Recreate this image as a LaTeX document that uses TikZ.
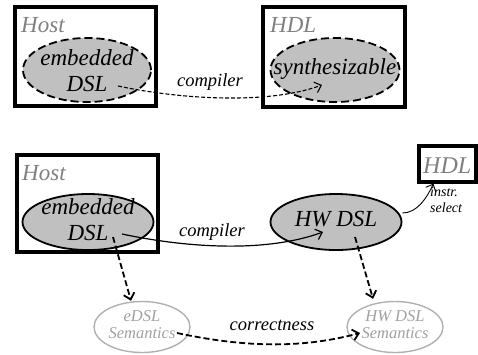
\documentclass[tikz,border=0pt]{standalone}
\usepackage{fontspec}
\setmainfont{Liberation Serif}[ItalicFont={Liberation Serif Italic},BoldFont={Liberation Serif Bold}]
\newfontfamily\tms{Liberation Serif Italic}
\usetikzlibrary{arrows.meta,shapes.geometric}
\definecolor{fillgray}{HTML}{C0C0C0}
\definecolor{labgray}{HTML}{808080}
\definecolor{semline}{HTML}{B0B0B0}
\definecolor{semtext}{HTML}{A0A0A0}
\begin{document}
\begin{tikzpicture}[x=1pt,y=1pt,
  frame/.style={draw, line width=3.2pt, rectangle, inner sep=0pt},
  bubble/.style={ellipse, draw, line width=1.8pt, fill=fillgray, inner sep=0pt},
  dashbubble/.style={bubble, dash pattern=on 8pt off 4pt},
  semb/.style={ellipse, draw=semline, line width=1.4pt, inner sep=0pt},
  bigtxt/.style={inner sep=0pt, align=center, font=\tms\fontsize{23}{26}\selectfont},
  grlab/.style={inner sep=0pt, anchor=base west, text=labgray, font=\tms\fontsize{23}{26}\selectfont},
  semtxt/.style={inner sep=0pt, align=center, text=semtext, font=\tms\fontsize{16.5}{17}\selectfont},
  edgelab/.style={inner sep=0pt, anchor=base, font=\tms\fontsize{18.5}{20}\selectfont},
  tip/.style={-{Straight Barb[length=6pt,width=11pt]}},
]
\useasboundingbox (0,0) rectangle (478,-354);

% ---------- top part ----------
\node[frame, minimum width=141, minimum height=99] (host1) at (85.5,-56.5) {};
\node[grlab] (host1l) at (21,-32) {Host};
\node[dashbubble, minimum width=128, minimum height=64] (e1) at (87,-70) {};
\node[bigtxt] (e1t) at (87,-71) {embedded\\DSL};

\node[frame, minimum width=142, minimum height=100] (hdl1) at (334,-57) {};
\node[grlab] (hdl1l) at (270,-32) {HDL};
\node[dashbubble, minimum width=129, minimum height=64] (s1) at (335,-70) {};
\node[bigtxt] (s1t) at (335,-69) {synthesizable};

\coordinate (c1s) at ([shift={(31,-16)}]e1.center);
\coordinate (c1e) at ([shift={(-13,-15)}]s1.center);
\draw[tip, line width=1.1pt, dash pattern=on 4pt off 2pt]
  (c1s) to[out=-12, in=200, looseness=0.75] (c1e);
\node[edgelab] (c1l) at (210,-86) {compiler};

% ---------- bottom part ----------
\node[frame, minimum width=141, minimum height=97] (host2) at (87.5,-203.5) {};
\node[grlab] (host2l) at (22,-180) {Host};
\node[bubble, minimum width=131, minimum height=56] (e2) at (88,-222) {};
\node[bigtxt] (e2t) at (88,-220) {embedded\\DSL};

\node[bubble, minimum width=131, minimum height=56] (hw) at (336,-222) {};
\node[bigtxt] (hwt) at (336,-219) {HW DSL};

\node[frame, minimum width=57, minimum height=36] (hdl2) at (447.5,-164) {};
\node[grlab, font=\tms\fontsize{24}{26}\selectfont] (hdl2l) at (423,-173) {HDL};

\node[semb, minimum width=96, minimum height=51] (sem1) at (142,-327) {};
\node[semtxt] (sem1t) at (142,-325) {eDSL\\Semantics};
\node[semb, minimum width=96, minimum height=51] (sem2) at (395,-327) {};
\node[semtxt] (sem2t) at (395,-325) {HW DSL\\Semantics};

% compiler (solid)
\coordinate (c2s) at ([shift={(34,-12)}]e2.center);
\coordinate (c2e) at ([shift={(-13,-10)}]hw.center);
\draw[tip, line width=1.2pt] (c2s) to[out=-12, in=200, looseness=0.8] (c2e);
\node[edgelab] (c2l) at (212,-236) {compiler};

% instr. select
\coordinate (c3s) at (hw.east);
\draw[tip, line width=0.9pt] ([yshift=9pt]c3s) to[out=0, in=-115, looseness=0.9] ([xshift=-14pt]hdl2.south);
\node[inner sep=0pt, anchor=base west, align=left, font=\tms\fontsize{14}{16}\selectfont] (isl) at (430,-212) {instr.\\select};

% semantics arrows
\coordinate (d1s) at ([shift={(25,-15)}]e2.center);
\draw[tip, line width=1.8pt, dash pattern=on 6pt off 3pt] (d1s) -- ([shift={(-11,0)}]sem1.north);
\coordinate (d2s) at ([shift={(19,-15)}]hw.center);
\draw[tip, line width=1.8pt, dash pattern=on 6pt off 3pt] (d2s) -- ([shift={(-22,2)}]sem2.north);

% correctness
\coordinate (c4s) at ([shift={(35,-6)}]sem1.center);
\coordinate (c4e) at ([shift={(-35,-6)}]sem2.center);
\draw[tip, line width=1.8pt, dash pattern=on 6pt off 3pt]
  (c4s) to[out=-12, in=195, looseness=0.9] (c4e);
\node[edgelab] (c4l) at (272,-330) {correctness};
\end{tikzpicture}
\end{document}
